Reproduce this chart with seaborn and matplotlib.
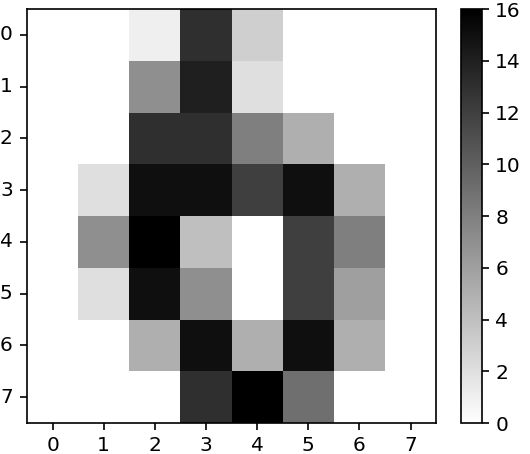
import numpy as np
import pandas as pd
import seaborn as sns
import matplotlib
matplotlib.use("Agg")
import matplotlib.pyplot as plt

# 8x8 digit image, pixel intensities 0..16
row0 = [0, 0, 1, 13, 3, 0, 0, 0]
row1 = [0, 0, 7, 14, 2, 0, 0, 0]
row2 = [0, 0, 13, 13, 8, 5, 0, 0]
row3 = [0, 2, 15, 15, 12, 15, 5, 0]
row4 = [0, 7, 16, 4, 0, 12, 8, 0]
row5 = [0, 2, 15, 7, 0, 12, 6, 0]
row6 = [0, 0, 5, 15, 5, 15, 5, 0]
row7 = [0, 0, 0, 13, 16, 9, 0, 0]
pixels = [row0, row1, row2, row3, row4, row5, row6, row7]
tick_labels = [str(i) for i in range(8)]
cbar_ticks = [0, 2, 4, 6, 8, 10, 12, 14, 16]

img = pd.DataFrame(np.array(pixels, dtype=float))

fig = plt.figure(figsize=(5.3, 4.54), dpi=100)
ax = fig.add_axes([0.051, 0.068, 0.772, 0.912])
cax = fig.add_axes([0.870, 0.068, 0.040, 0.912])

sns.heatmap(img, cmap="gray_r", vmin=0, vmax=16, ax=ax, cbar_ax=cax,
            cbar_kws={"ticks": cbar_ticks})

ax.set_xticks(np.arange(8) + 0.5)
ax.set_yticks(np.arange(8) + 0.5)
ax.set_xticklabels(tick_labels, rotation=0, fontsize=14.5)
ax.set_yticklabels(tick_labels, rotation=0, fontsize=14.5)
ax.tick_params(axis="x", length=4.8, width=1.2, pad=4.5)
ax.tick_params(axis="y", length=4.8, width=1.2, pad=5.5)
for s in ax.spines.values():
    s.set_visible(True)
    s.set_linewidth(1.2)
ax.set_xlabel("")
ax.set_ylabel("")

cbar = ax.collections[0].colorbar
cbar.outline.set_visible(True)
cbar.outline.set_linewidth(1.2)
cbar.ax.tick_params(labelsize=14.5, length=4.8, width=1.2, pad=4.5)

fig.savefig("out.png", dpi=100)
